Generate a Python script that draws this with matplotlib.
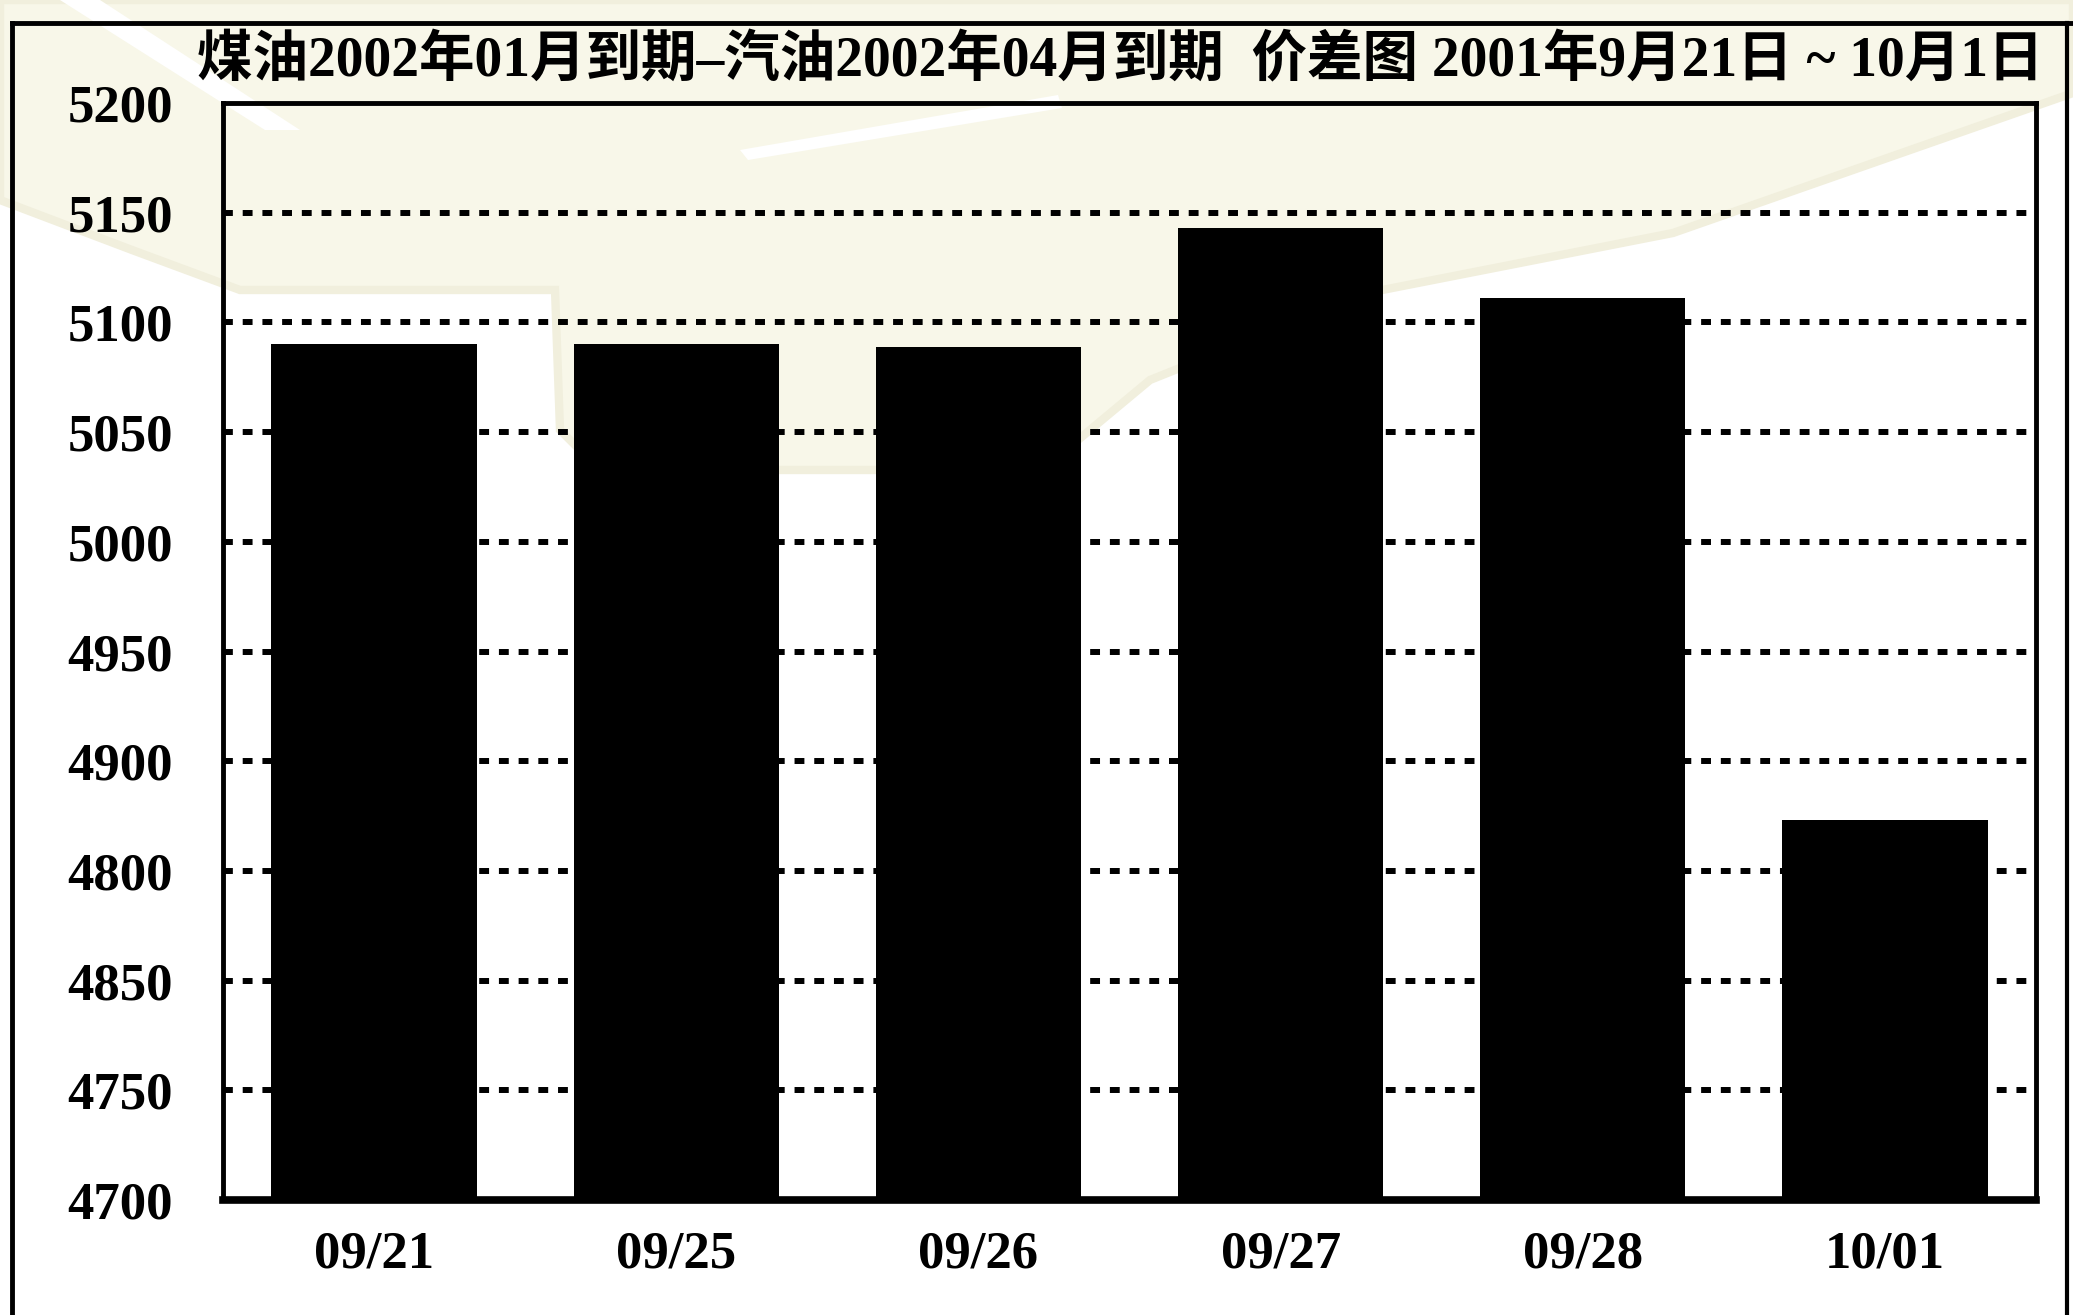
import matplotlib
matplotlib.use("Agg")
import matplotlib.pyplot as plt
from matplotlib.patches import Polygon
from matplotlib.lines import Line2D

# ---- data ----
dates = ["09/21", "09/25", "09/26", "09/27", "09/28", "10/01"]
spread = [5090, 5090, 5089, 5143, 5111, 4873]
ytick_values = [4700, 4750, 4800, 4850, 4900, 4950, 5000, 5050, 5100, 5150, 5200]
ytick_labels = ["4700", "4750", "4850", "4800", "4900", "4950", "5000", "5050", "5100", "5150", "5200"]
title = "煤油2002年01月到期–汽油2002年04月到期  价差图 2001年9月21日 ~ 10月1日"

W, H = 2073, 1315
fig = plt.figure(figsize=(W / 100, H / 100), dpi=100)
fig.patch.set_facecolor("white")

def fx(x):
    return x / W

def fy(y):
    return 1 - y / H

# faint watermark (background decoration)
cream = "#F8F7E9"
shapes = [
    [(0, 0), (2073, 0), (2073, 93), (1673, 233), (1367, 293), (1150, 380), (1060, 455),
     (990, 470), (600, 470), (560, 430), (555, 290), (240, 290), (132, 250), (0, 200)],
]
for s in shapes:
    fig.patches.append(Polygon([(fx(x), fy(y)) for x, y in s], closed=True,
                               transform=fig.transFigure, facecolor=cream,
                               edgecolor="#F1EFDD", lw=6, zorder=-10))
# short white streaks across the watermark
for streak in ([(60, 0), (100, 0), (300, 130), (265, 130)],
               [(740, 150), (1058, 95), (1062, 108), (748, 160)]):
    fig.patches.append(Polygon([(fx(x), fy(y)) for x, y in streak], closed=True,
                               transform=fig.transFigure, facecolor="white",
                               edgecolor="none", zorder=-9))

# outer frame
fig.lines.append(Line2D([fx(12), fx(12)], [fy(23), fy(1315)], transform=fig.transFigure,
                        color="black", lw=3.5))
fig.lines.append(Line2D([fx(12), fx(2073)], [fy(23), fy(23)], transform=fig.transFigure,
                        color="black", lw=3.5))
fig.lines.append(Line2D([fx(2067), fx(2067)], [fy(23), fy(1315)], transform=fig.transFigure,
                        color="black", lw=3))

left, right, top, bottom = 223, 2036, 103, 1200
ax = fig.add_axes([fx(left), fy(bottom), (right - left) / W, (bottom - top) / H])
ax.set_facecolor("none")

x = list(range(len(dates)))
ax.bar(x, spread, width=0.68, color="black", zorder=3)
ax.set_xlim(-0.5, len(dates) - 0.5)
ax.set_ylim(4700, 5200)

ax.set_yticks(ytick_values)
ax.set_yticklabels(ytick_labels)
ax.set_xticks(x)
ax.set_xticklabels(dates)

for v in ytick_values[1:-1]:
    ax.axhline(v, color="black", lw=4.3, linestyle=(0, (1.65, 1.65)),
               dash_capstyle="butt", zorder=1)

for lab in ax.get_yticklabels() + ax.get_xticklabels():
    lab.set_fontfamily("Liberation Serif")
    lab.set_fontweight("bold")
    lab.set_fontsize(38)
ax.tick_params(axis="both", length=0)
ax.tick_params(axis="y", pad=36)
ax.tick_params(axis="x", pad=22)

for side, lw in [("left", 3.5), ("right", 3.5), ("top", 3.5), ("bottom", 5.5)]:
    ax.spines[side].set_linewidth(lw)
    ax.spines[side].set_color("black")
    ax.spines[side].set_zorder(4)

fig.text(fx(1120), fy(62), title, ha="center", va="center",
         family=["Liberation Serif", "Noto Sans CJK SC"], weight="bold", fontsize=40)

fig.savefig("out.png", dpi=100)
